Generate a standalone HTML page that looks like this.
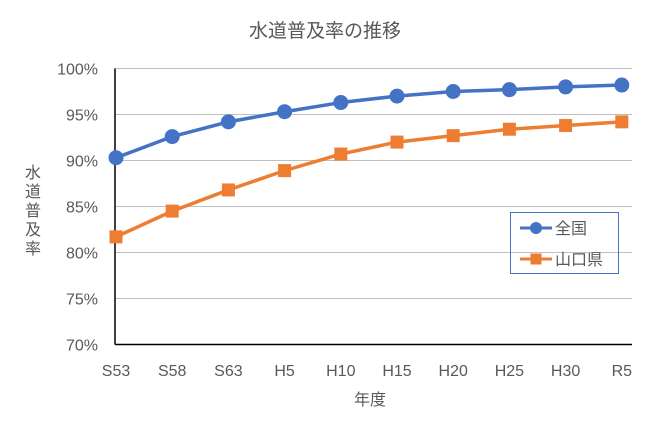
<!DOCTYPE html>
<html><head><meta charset="utf-8">
<style>
html,body{margin:0;padding:0;background:#fff;}
svg text{font-family:"Liberation Sans","Noto Sans CJK JP",sans-serif;fill:#595959;}
</style></head>
<body>
<svg id="chart" width="650" height="434" viewBox="0 0 650 434" xmlns="http://www.w3.org/2000/svg">
<text x="325" y="37" font-size="19" text-anchor="middle">水道普及率の推移</text>
<g id="grid"></g>
<g id="series"></g>
<text x="370" y="405" font-size="16" text-anchor="middle">年度</text>
<g font-size="16">
<text x="33" y="178" text-anchor="middle">水</text>
<text x="33" y="197" text-anchor="middle">道</text>
<text x="33" y="216" text-anchor="middle">普</text>
<text x="33" y="235" text-anchor="middle">及</text>
<text x="33" y="254" text-anchor="middle">率</text>
</g>
<g>
<rect x="510.5" y="212.5" width="108" height="61" fill="none" stroke="#4472c4" stroke-width="1"/>
<g>
<line x1="520" y1="228" x2="552" y2="228" stroke="#4472c4" stroke-width="3"/>
<circle cx="536" cy="228" r="6" fill="#4472c4"/>
<text x="555" y="234" font-size="16">全国</text>
</g>
<g>
<line x1="520" y1="259" x2="552" y2="259" stroke="#ed7d31" stroke-width="3"/>
<rect x="530.5" y="253.5" width="11" height="11" fill="#ed7d31"/>
<text x="555" y="265" font-size="16">山口県</text>
</g>
</g>
</svg>
<script>
const categories = ["S53","S58","S63","H5","H10","H15","H20","H25","H30","R5"];
const nationalValues = [90.3,92.6,94.2,95.3,96.3,97.0,97.5,97.7,98.0,98.2];
const yamaguchiValues = [81.7,84.5,86.8,88.9,90.7,92.0,92.7,93.4,93.8,94.2];
const yTicks = [70,75,80,85,90,95,100];

const NS = "http://www.w3.org/2000/svg";
const plotLeft = 115, plotRight = 632, plotTop = 68.5, plotBottom = 344.5, yMin = 70, yMax = 100;
const catStep = 56.2, catStart = 116;
function xPos(i){ return catStart + i*catStep; }
function yPos(v){ return plotBottom - (v - yMin)/(yMax - yMin)*(plotBottom - plotTop); }
function mk(tag, attrs, parent){ const e=document.createElementNS(NS,tag); for(const k in attrs) e.setAttribute(k,attrs[k]); parent.appendChild(e); return e; }

const grid = document.getElementById('grid');
yTicks.forEach(t=>{
  const y = yPos(t);
  if (t !== yMin) {
    const gl = mk('line',{x1:plotLeft,x2:plotRight,y1:y,y2:y,stroke:'#bfbfbf','stroke-width':1},grid);
    
    
  }
  const tx = mk('text',{x:98,y:y+6,'font-size':16,'text-anchor':'end'},grid);
  tx.textContent = t+'%';
  
  
});
const ax = mk('line',{x1:plotLeft,x2:plotRight,y1:plotBottom,y2:plotBottom,stroke:'#000','stroke-width':1.5},grid);


const ay = mk('line',{x1:plotLeft,x2:plotLeft,y1:plotTop,y2:plotBottom,stroke:'#000','stroke-width':1.5},grid);


categories.forEach((c,i)=>{
  const tx = mk('text',{x:xPos(i),y:376,'font-size':16,'text-anchor':'middle'},grid);
  tx.textContent = c;
  
  
});

const series = document.getElementById('series');
function drawSeries(vals,color,marker,name){
  const g = mk('g',{},series);
  
  
  const pts = vals.map((v,i)=>xPos(i)+','+yPos(v)).join(' ');
  const pl = mk('polyline',{points:pts,fill:'none',stroke:color,'stroke-width':3.5,'stroke-linejoin':'round'},g);
  
  
  vals.forEach((v,i)=>{
    let m;
    if(marker==='circle') m = mk('circle',{cx:xPos(i),cy:yPos(v),r:7.5,fill:color},g);
    else m = mk('rect',{x:xPos(i)-6.5,y:yPos(v)-6.5,width:13,height:13,fill:color},g);
    
    
  });
}
drawSeries(yamaguchiValues,'#ed7d31','square','yamaguchi');
drawSeries(nationalValues,'#4472c4','circle','national');
</script>
</body></html>
